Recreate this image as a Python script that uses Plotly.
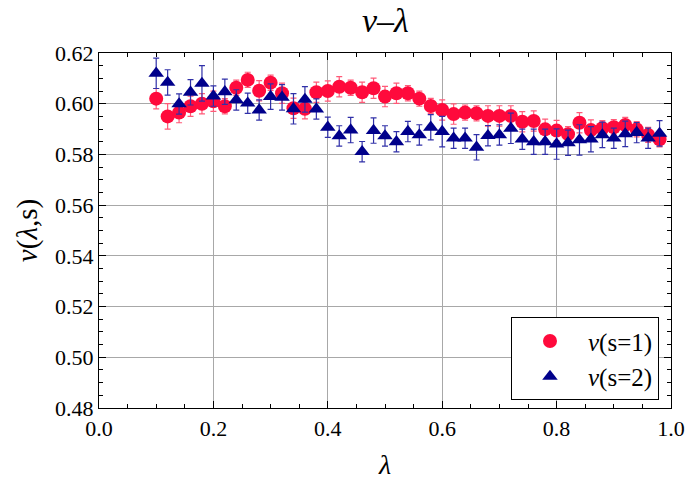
import plotly.graph_objects as go

lam = [round(0.10 + 0.02 * i, 2) for i in range(45)]

nu_s1 = [0.602, 0.595, 0.5965, 0.599, 0.600, 0.601, 0.599, 0.6063, 0.6094, 0.6051,
         0.6083, 0.6041, 0.5982, 0.598, 0.6045, 0.605, 0.6067, 0.6063, 0.6045, 0.6061,
         0.6028, 0.6041, 0.6041, 0.602, 0.5991, 0.5975, 0.5959, 0.5965, 0.5962, 0.5952,
         0.5952, 0.5952, 0.5929, 0.5932, 0.5899, 0.5894, 0.588, 0.5925, 0.5896, 0.5903,
         0.5907, 0.5916, 0.5899, 0.5877, 0.586]
err_s1 = [0.004, 0.005, 0.004, 0.004, 0.004, 0.004, 0.003, 0.003, 0.003, 0.004,
          0.003, 0.004, 0.004, 0.004, 0.004, 0.004, 0.004, 0.003, 0.004, 0.004,
          0.004, 0.004, 0.003, 0.003, 0.003, 0.004, 0.004, 0.003, 0.003, 0.004,
          0.004, 0.004, 0.004, 0.004, 0.004, 0.004, 0.003, 0.004, 0.004, 0.003,
          0.003, 0.003, 0.003, 0.003, 0.003]

nu_s2 = [0.612, 0.6084, 0.5999, 0.6045, 0.608, 0.603, 0.6047, 0.6015, 0.6002, 0.5975,
         0.6028, 0.6025, 0.598, 0.6017, 0.5979, 0.5907, 0.5873, 0.5896, 0.5811, 0.5894,
         0.5873, 0.585, 0.589, 0.5877, 0.5907, 0.589, 0.5864, 0.5864, 0.5828, 0.5874,
         0.5877, 0.5903, 0.586, 0.585, 0.585, 0.5841, 0.5846, 0.5857, 0.586, 0.5877,
         0.5864, 0.5881, 0.5886, 0.5864, 0.5883]
err_s2 = [0.006, 0.005, 0.004, 0.005, 0.007, 0.004, 0.005, 0.004, 0.004, 0.004,
          0.005, 0.005, 0.006, 0.005, 0.004, 0.004, 0.004, 0.005, 0.004, 0.005,
          0.004, 0.004, 0.004, 0.004, 0.005, 0.006, 0.004, 0.004, 0.005, 0.004,
          0.004, 0.006, 0.004, 0.005, 0.005, 0.006, 0.005, 0.006, 0.005, 0.005,
          0.004, 0.005, 0.004, 0.004, 0.005]

RED = "#ff0a3c"
BLUE = "#00008b"
FONT = "Liberation Serif"

fig = go.Figure()
fig.add_trace(go.Scatter(
    x=lam, y=nu_s1, mode="markers", name="<i>ν</i>(s=1)",
    marker=dict(symbol="circle", size=14, color=RED),
    error_y=dict(type="data", array=err_s1, color="#ff5a78", thickness=1.2, width=3),
))
fig.add_trace(go.Scatter(
    x=lam, y=nu_s2, mode="markers", name="<i>ν</i>(s=2)",
    marker=dict(symbol="triangle-up", size=13.5, color=BLUE),
    error_y=dict(type="data", array=err_s2, color="#3030a8", thickness=1.2, width=3),
))

axis_common = dict(
    showline=True, linecolor="black", linewidth=1.2, mirror="allticks",
    ticks="inside", ticklen=7, tickcolor="black", tickwidth=1,
    showgrid=True, gridcolor="#a8a8a8", gridwidth=1, zeroline=False,
    tickfont=dict(family=FONT, size=22, color="black"),
    automargin=False,
)

fig.update_xaxes(
    range=[0.0, 1.0], tick0=0, dtick=0.2, tickformat=".1f",
    minor=dict(dtick=0.05, ticks="inside", ticklen=4, tickcolor="black", showgrid=False),
    title=dict(text="<i>λ</i>", font=dict(family=FONT, size=28, color="black"), standoff=14),
    **axis_common,
)
fig.update_yaxes(
    range=[0.48, 0.62], tick0=0.48, dtick=0.02, tickformat=".2f",
    minor=dict(dtick=0.005, ticks="inside", ticklen=4, tickcolor="black", showgrid=False),
    title=dict(text="<i>ν</i>(<i>λ</i>,s)", font=dict(family=FONT, size=29, color="black"), standoff=8),
    **axis_common,
)

fig.update_layout(
    width=692, height=486,
    margin=dict(l=99, r=21, t=53, b=78, autoexpand=False),
    paper_bgcolor="white", plot_bgcolor="white",
    title=dict(text="<i>ν</i>–<i>λ</i>", x=0.557, xanchor="center", y=0.958, yanchor="middle",
               font=dict(family=FONT, size=34, color="black")),
    showlegend=True,
    legend=dict(x=0.979, y=0.022, xanchor="right", yanchor="bottom",
                bgcolor="white", bordercolor="black", borderwidth=1,
                font=dict(family=FONT, size=25, color="black"),
                itemsizing="trace", itemwidth=66, tracegroupgap=0),
    font=dict(family=FONT),
)

fig.write_html("out.html")
